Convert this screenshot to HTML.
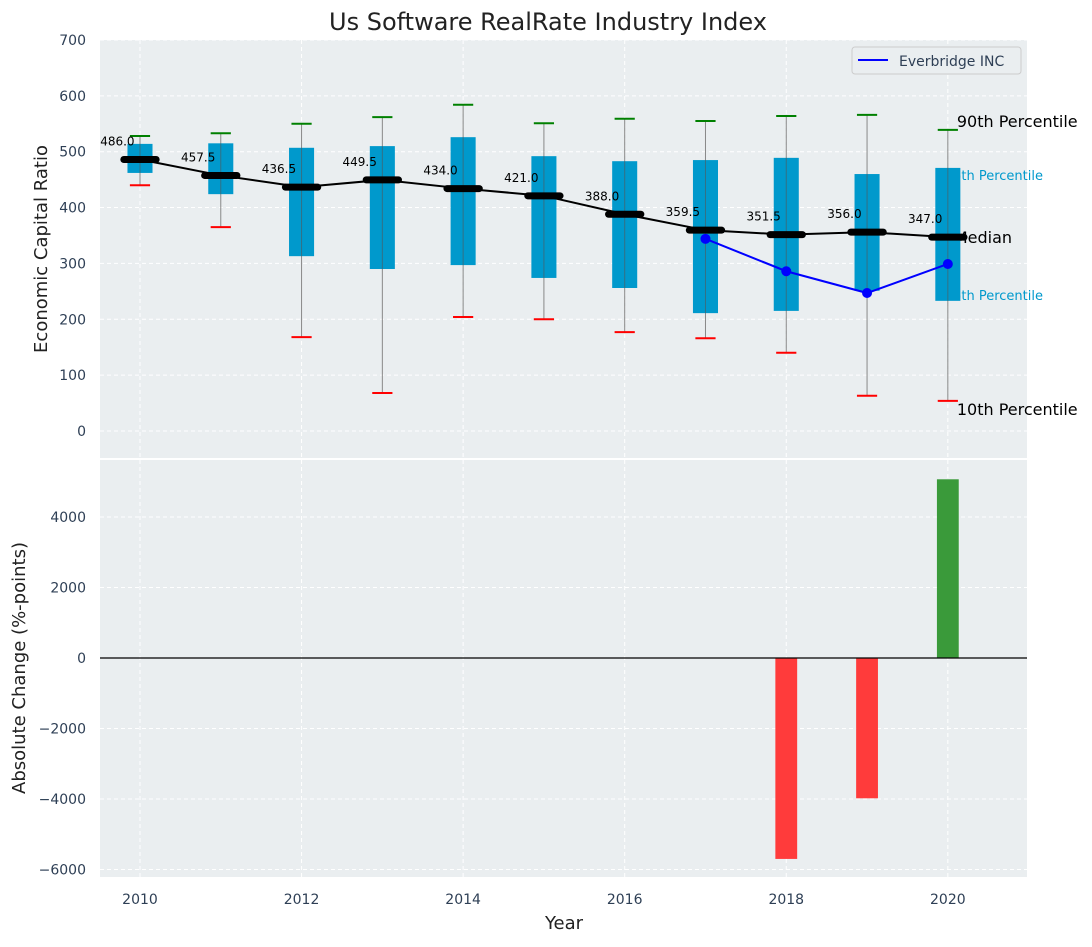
<!DOCTYPE html>
<html><head><meta charset="utf-8">
<style>
html,body{margin:0;padding:0;background:#fff;}
svg text{font-family:"DejaVu Sans","Liberation Sans",sans-serif;}
</style></head>
<body>
<svg id="chart" width="1092" height="942" xmlns="http://www.w3.org/2000/svg"></svg>
<script>
const years=[2010,2011,2012,2013,2014,2015,2016,2017,2018,2019,2020];
const p10=[440,365,168,68,204,200,177,166,140,63,54];
const p25=[462,424,313,290,297,274,256,211,215,251,233];
const medians=[486.0,457.5,436.5,449.5,434.0,421.0,388.0,359.5,351.5,356.0,347.0];
const p75=[514,515,507,510,526,492,483,485,489,460,471];
const p90=[528,533,550,562,584,551,559,555,564,566,539];
const compYears=[2017,2018,2019,2020];
const compValues=[344,286,247,299];
const changeYears=[2018,2019,2020];
const changeValues=[-5700,-3980,5070];
const topTicks=[0,100,200,300,400,500,600,700];
const botTicks=[-6000,-4000,-2000,0,2000,4000];
const botTickLabels=["\u22126000","\u22124000","\u22122000","0","2000","4000"];
const xTicks=[2010,2012,2014,2016,2018,2020];

const L=100,R=1027,T1=40,B1=458,T2=460,B2=877;
const X=v=>L+(v-2009.505)*(R-L)/(2020.98-2009.505);
const Y1=v=>431-v*0.5586;
const Y2=v=>658-v*0.03525;
const svg=document.getElementById('chart');
const NS="http://www.w3.org/2000/svg";
function el(tag,attrs,parent){const e=document.createElementNS(NS,tag);for(const k in attrs)e.setAttribute(k,attrs[k]);(parent||svg).appendChild(e);return e;}
function txt(s,attrs,parent){const e=el('text',attrs,parent);e.textContent=s;return e;}

const bg1=el('rect',{x:L,y:T1,width:R-L,height:B1-T1,fill:'#eaeef0'});


const bg2=el('rect',{x:L,y:T2,width:R-L,height:B2-T2,fill:'#eaeef0'});



xTicks.forEach(v=>{
  el('line',{x1:X(v),x2:X(v),y1:T1,y2:B1,stroke:'#fff','stroke-dasharray':'4,3','stroke-width':1});
  el('line',{x1:X(v),x2:X(v),y1:T2,y2:B2,stroke:'#fff','stroke-dasharray':'4,3','stroke-width':1});
});
topTicks.forEach(v=>{
  el('line',{x1:L,x2:R,y1:Y1(v),y2:Y1(v),stroke:'#fff','stroke-dasharray':'4,3'});
  const t=txt(String(v),{x:L-14,y:Y1(v)+5,'text-anchor':'end','font-size':14,fill:'#2e3f55'});
  
  
});
botTicks.forEach((v,i)=>{
  if(v!==0) el('line',{x1:L,x2:R,y1:Y2(v),y2:Y2(v),stroke:'#fff','stroke-dasharray':'4,3'});
  const t=txt(botTickLabels[i],{x:L-14,y:Y2(v)+5,'text-anchor':'end','font-size':14,fill:'#2e3f55'});
  
  
});
xTicks.forEach(v=>{
  const t=txt(String(v),{x:X(v),y:904,'text-anchor':'middle','font-size':14,fill:'#2e3f55'});
  
  
});

const x20=X(2020);
[["90th Percentile",x20+9,Y1(p90[10])-3,'#000',16],
 ["75th Percentile",x20-3,Y1(p75[10])+12,'#0099cc',13],
 ["Median",x20+6,Y1(medians[10])+6,'#000',16],
 ["25th Percentile",x20-3,Y1(p25[10])-1,'#0099cc',13],
 ["10th Percentile",x20+9,Y1(p10[10]-40)-8,'#000',16]].forEach(a=>{
  const t=txt(a[0],{x:a[1],y:a[2],'font-size':a[4],fill:a[3]});
  
  
});

const bw=0.31,cw=0.25;
years.forEach((yr,i)=>{
  const x=X(yr);
  const w=el('line',{x1:x,x2:x,y1:Y1(p10[i]),y2:Y1(p90[i]),stroke:'#888','stroke-width':1});
  
  
  const b=el('rect',{x:X(yr-bw/2),y:Y1(p75[i]),width:X(yr+bw/2)-X(yr-bw/2),height:Y1(p25[i])-Y1(p75[i]),fill:'#0099cc'});
  
  
  el('line',{x1:x,x2:x,y1:Y1(p75[i]),y2:Y1(p25[i]),stroke:'#555','stroke-width':1,opacity:0.6});
  const c1=el('line',{x1:X(yr-cw/2),x2:X(yr+cw/2),y1:Y1(p90[i]),y2:Y1(p90[i]),stroke:'green','stroke-width':2});
  
  
  const c2=el('line',{x1:X(yr-cw/2),x2:X(yr+cw/2),y1:Y1(p10[i]),y2:Y1(p10[i]),stroke:'red','stroke-width':2});
  
  
});
const mpts=years.map((yr,i)=>X(yr)+','+Y1(medians[i])).join(' ');
const ml=el('polyline',{points:mpts,fill:'none',stroke:'#000','stroke-width':2});


years.forEach((yr,i)=>{
  const m=el('line',{x1:X(yr-0.2),x2:X(yr+0.2),y1:Y1(medians[i]),y2:Y1(medians[i]),stroke:'#000','stroke-width':7,'stroke-linecap':'round'});
  
  
  const t=txt(medians[i].toFixed(1),{x:X(yr-0.28),y:Y1(medians[i])-14,'text-anchor':'middle','font-size':12,fill:'#000'});
  
  
});
const cpts=compYears.map((yr,i)=>X(yr)+','+Y1(compValues[i])).join(' ');
const cl=el('polyline',{points:cpts,fill:'none',stroke:'#0000ff','stroke-width':2});


compYears.forEach((yr,i)=>{
  const p=el('circle',{cx:X(yr),cy:Y1(compValues[i]),r:5,fill:'#0000ff'});
  
  
});

changeYears.forEach((yr,i)=>{
  const v=changeValues[i];
  const y0=Y2(Math.max(v,0)),y1=Y2(Math.min(v,0));
  const b=el('rect',{x:X(yr-0.135),y:y0,width:X(yr+0.135)-X(yr-0.135),height:y1-y0,fill:v<0?'#ff3b3b':'#3a9a3a'});
  
  
});
const zl=el('line',{x1:L,x2:R,y1:Y2(0),y2:Y2(0),stroke:'#000','stroke-width':1.2});



const lg=el('g',{});


el('rect',{x:852,y:47,width:169,height:27,rx:3,fill:'#eaeef0',stroke:'#ccc'},lg);
el('line',{x1:858,x2:888,y1:60,y2:60,stroke:'#0000ff','stroke-width':2},lg);
txt('Everbridge INC',{x:899,y:66,'font-size':14,fill:'#2e3f55'},lg);

const tt=txt('Us Software RealRate Industry Index',{x:548,y:30,'text-anchor':'middle','font-size':24,fill:'#222'});


const yl1=txt('Economic Capital Ratio',{x:47,y:249,'text-anchor':'middle','font-size':18,fill:'#222',transform:'rotate(-90 47 249)'});


const yl2=txt('Absolute Change (%-points)',{x:25,y:668,'text-anchor':'middle','font-size':18,fill:'#222',transform:'rotate(-90 25 668)'});


const xl=txt('Year',{x:564,y:929,'text-anchor':'middle','font-size':18,fill:'#222'});


</script>
</body></html>
